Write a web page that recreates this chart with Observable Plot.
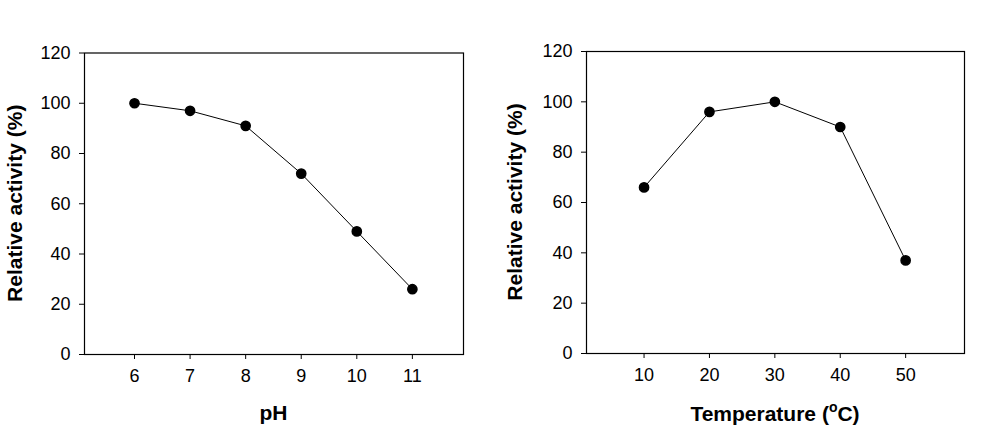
<!DOCTYPE html>
<html><head><meta charset="utf-8">
<script src="https://cdn.jsdelivr.net/npm/d3@7"></script>
<script src="https://cdn.jsdelivr.net/npm/@observablehq/plot@0.6"></script>
<style>
body{margin:0;background:#fff}
#wrap{display:flex;width:990px;height:430px}
svg{font-family:Arial,"Liberation Sans",sans-serif}
</style>
</head><body><div id="wrap"></div>
<script>
const phValues = [6, 7, 8, 9, 10, 11];
const phActivity = [100, 97, 91, 72, 49, 26];
const tempValues = [10, 20, 30, 40, 50];
const tempActivity = [66, 96, 100, 90, 37];
const yTicks = [0, 20, 40, 60, 80, 100, 120];
const yLabel = "Relative activity (%)";

function panel({xs, ys, domain, margins, ylabX, xlabY, xlab}) {
  const data = xs.map((x, i) => ({x, y: ys[i]}));
  const svg = Plot.plot({
    width: 495, height: 430,
    marginLeft: margins[0], marginRight: margins[1], marginTop: margins[2], marginBottom: margins[3],
    style: {fontFamily: "Arial, 'Liberation Sans', sans-serif", fontSize: "18px", color: "black", background: "white"},
    x: {domain, ticks: xs},
    y: {domain: [0, 120], ticks: yTicks},
    marks: [
      Plot.frame({stroke: "black", strokeWidth: 1.2}),
      Plot.axisX({ticks: xs, tickFormat: d3.format("d"), tickSize: 5, tickPadding: 10, label: null, fontSize: 18}),
      Plot.axisY({ticks: yTicks, tickFormat: d3.format("d"), tickSize: 5, tickPadding: 9, label: null, fontSize: 18}),
      Plot.line(data, {x: "x", y: "y", stroke: "black", strokeWidth: 1}),
      Plot.dot(data, {x: "x", y: "y", r: 4.6, fill: "black", stroke: "black"})
    ]
  });
  const s = d3.select(svg);
  const cx = margins[0] + (495 - margins[0] - margins[1]) / 2;
  const cy = margins[2] + (430 - margins[2] - margins[3]) / 2;
  s.append("text").attr("transform", `translate(${ylabX},${cy}) rotate(-90)`)
    .attr("text-anchor", "middle").attr("font-weight", "bold").attr("font-size", 21)
    .attr("fill", "black").text(yLabel);
  const t = s.append("text").attr("x", cx).attr("y", xlabY)
    .attr("text-anchor", "middle").attr("font-weight", "bold").attr("font-size", 21).attr("fill", "black");
  xlab(t);
  return svg;
}

const wrap = document.getElementById("wrap");
wrap.append(panel({
  xs: phValues, ys: phActivity, domain: [5.1, 11.92],
  margins: [84, 32, 52.5, 76], ylabX: 22, xlabY: 420,
  xlab: t => t.text("pH")
}));
wrap.append(panel({
  xs: tempValues, ys: tempActivity, domain: [1.2, 59],
  margins: [91, 26, 51, 77], ylabX: 27, xlabY: 421,
  xlab: t => {
    t.append("tspan").text("Temperature (");
    t.append("tspan").attr("font-size", 14).attr("dy", -9).text("o");
    t.append("tspan").attr("dy", 9).text("C)");
  }
}));
</script>
</body></html>
